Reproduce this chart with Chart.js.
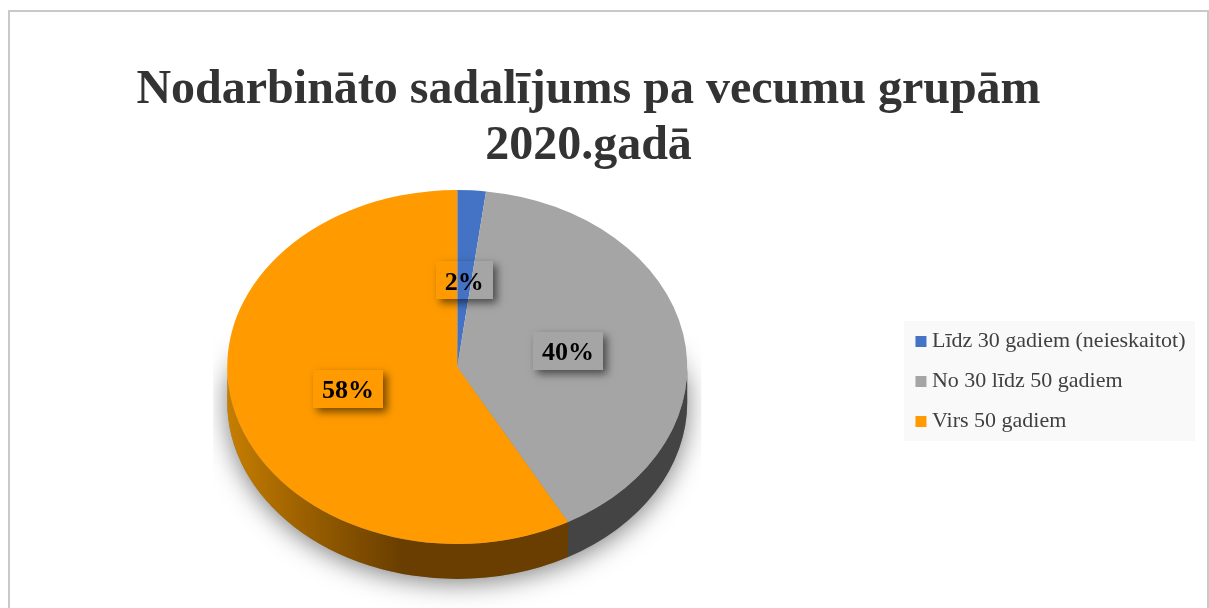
<!DOCTYPE html>
<html lang="lv">
<head>
<meta charset="utf-8">
<title>Nodarbināto sadalījums pa vecumu grupām 2020.gadā</title>
<script src="https://cdn.jsdelivr.net/npm/chart.js@4"></script>
<style>
  html, body { margin: 0; padding: 0; background: #fff; overflow: hidden; }
  #wrap { position: relative; width: 1209px; height: 608px; overflow: hidden; }
  #frame { position: absolute; left: 8px; top: 10px; width: 1197px; height: 700px; border: 2px solid #c9c9c9; }
  canvas { position: absolute; left: 0; top: 0; }
</style>
</head>
<body>
<div id="wrap">
  <div id="frame"></div>
  <canvas id="c" width="1209" height="608"></canvas>
</div>
<script>
const titleLines = ['Nodarbināto sadalījums pa vecumu grupām', '2020.gadā'];
const categories = ['Līdz 30 gadiem (neieskaitot)', 'No 30 līdz 50 gadiem', 'Virs 50 gadiem'];
const shares = [2, 40, 58];
const sliceColors = ['#4472c4', '#a5a5a5', '#ff9b00'];
const sideColors = ['#2a4a80', '#444444', null];

const SERIF = '"Liberation Serif", "Times New Roman", serif';
const SQUASH = 177 / 230;   // vertical flattening of the tilted pie
const DEPTH = 35;           // thickness of the pie on screen
const LABEL_R = 0.49;       // label centre as a fraction of the radius

function pieGeometry(chart) {
  const arcs = chart.getDatasetMeta(0).data;
  const a = arcs[0];
  return { arcs, cx: a.x, cy: a.y, r: a.outerRadius };
}

const tiltedPie = {
  id: 'tiltedPie',
  afterLayout(chart) {
    chart.titleBlock.right -= 30;
    chart.legend.top += 107;
    chart.legend.bottom += 107;
  },
  beforeDraw(chart) {
    const ctx = chart.ctx, lg = chart.legend;
    ctx.save();
    ctx.fillStyle = '#f9f9f9';
    ctx.fillRect(Math.round(lg.left + 1), 321, 291, 120);
    ctx.restore();
  },
  beforeDatasetsDraw(chart) {
    const ctx = chart.ctx;
    const { arcs, cx, cy, r } = pieGeometry(chart);
    const d = DEPTH / SQUASH;

    // soft halo under the pie, fading out towards the top
    ctx.save();
    ctx.beginPath();
    ctx.rect(cx - r - 14, cy - 40, 2 * r + 28, r + 40 + 23);
    ctx.clip();
    ctx.shadowColor = 'rgba(0,0,0,0.5)';
    ctx.shadowBlur = 26;
    ctx.shadowOffsetY = 4;
    ctx.fillStyle = '#888';
    ctx.beginPath();
    ctx.ellipse(cx, cy + DEPTH, r, r * SQUASH, 0, 0, Math.PI * 2);
    ctx.fill();
    ctx.shadowColor = 'transparent';
    const fade = ctx.createLinearGradient(0, cy - 40, 0, cy + 20);
    fade.addColorStop(0, 'rgba(255,255,255,1)');
    fade.addColorStop(1, 'rgba(255,255,255,0)');
    ctx.fillStyle = fade;
    ctx.fillRect(cx - r - 14, cy - 40, 2 * r + 28, 60);
    ctx.restore();

    ctx.save();
    ctx.translate(0, cy);
    ctx.scale(1, SQUASH);
    ctx.translate(0, -cy);

    // side wall: only the front half of each slice is visible
    arcs.forEach((arc, i) => {
      const two = Math.PI * 2;
      let s = arc.startAngle, e = arc.endAngle;
      const ranges = [[s, e], [s + two, e + two], [s - two, e - two]];
      ranges.forEach(([a0, a1]) => {
        const from = Math.max(a0, 0), to = Math.min(a1, Math.PI);
        if (to <= from) return;
        let fill = sideColors[i];
        if (!fill) {
          fill = ctx.createLinearGradient(cx - r, 0, cx - 55, 0);
          fill.addColorStop(0, '#c67e00');
          fill.addColorStop(0.45, '#9a5f00');
          fill.addColorStop(1, '#693e00');
        }
        ctx.fillStyle = fill;
        ctx.beginPath();
        ctx.arc(cx, cy, r, from, to);
        ctx.arc(cx, cy + d, r, to, from, true);
        ctx.closePath();
        ctx.fill();
      });
    });
  },
  afterDatasetsDraw(chart) {
    const ctx = chart.ctx;
    ctx.restore();

    const { arcs, cx, cy, r } = pieGeometry(chart);
    ctx.save();
    ctx.font = 'bold 26px ' + SERIF;
    ctx.textAlign = 'center';
    ctx.textBaseline = 'middle';
    arcs.forEach((arc, i) => {
      const mid = (arc.startAngle + arc.endAngle) / 2;
      const x = cx + Math.cos(mid) * r * LABEL_R;
      const y = cy + Math.sin(mid) * r * LABEL_R * SQUASH;
      const text = shares[i] + '%';
      const w = Math.round(ctx.measureText(text).width + 18), h = 38;
      const bx = Math.round(x - w / 2), by = Math.round(y - h / 2);

      // drop shadow of the label box, outside the box only
      ctx.save();
      ctx.beginPath();
      ctx.rect(0, 0, chart.width, chart.height);
      ctx.rect(bx, by, w, h);
      ctx.clip('evenodd');
      ctx.shadowColor = 'rgba(0,0,0,0.55)';
      ctx.shadowBlur = 8;
      ctx.shadowOffsetX = 4;
      ctx.shadowOffsetY = 4;
      ctx.fillStyle = 'rgba(0,0,0,1)';
      // the box itself is drawn off-canvas so that only its shadow lands here
      ctx.shadowOffsetX = 4 + chart.width * 2;
      ctx.fillRect(bx - chart.width * 2, by, w, h);
      ctx.restore();

      ctx.fillStyle = '#000';
      ctx.fillText(text, x, y + 3);
    });
    ctx.restore();
  }
};

new Chart(document.getElementById('c'), {
  type: 'pie',
  plugins: [tiltedPie],
  data: {
    labels: categories,
    datasets: [{
      data: shares,
      backgroundColor: sliceColors,
      borderWidth: 0,
      clip: false
    }]
  },
  options: {
    responsive: false,
    animation: false,
    radius: 230,
    layout: { padding: { left: 11.5, right: 13.5, top: 0, bottom: 59 } },
    plugins: {
      tooltip: { enabled: false },
      title: {
        display: true,
        text: titleLines,
        color: '#333333',
        font: { family: SERIF, size: 48, weight: 'bold', lineHeight: 56 / 48 },
        padding: { top: 63, bottom: 10 }
      },
      legend: {
        position: 'right',
        labels: {
          color: '#404040',
          font: { family: SERIF, size: 22 },
          usePointStyle: true,
          pointStyle: 'rect',
          boxWidth: 0.01,
          boxHeight: 11,
          padding: 18
        }
      }
    }
  }
});
</script>
</body>
</html>
